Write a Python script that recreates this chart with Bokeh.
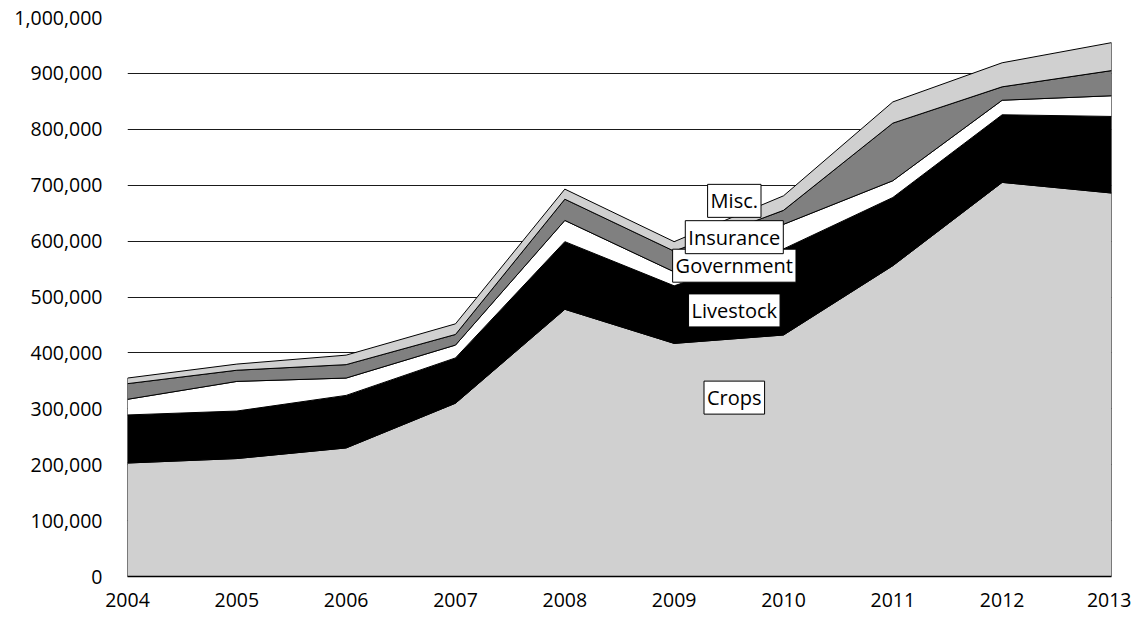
import numpy as np
from bokeh.plotting import figure
from bokeh.models import Range1d, NumeralTickFormatter, FixedTicker, Label
from bokeh.embed import file_html
from bokeh.resources import INLINE

years = [2004, 2005, 2006, 2007, 2008, 2009, 2010, 2011, 2012, 2013]
crops = [203000, 211000, 230000, 310000, 478000, 417000, 432000, 556000, 705000, 686000]
livestock = [86000, 85000, 94000, 81000, 121000, 103000, 154000, 122000, 121000, 137000]
government = [28000, 53000, 31000, 23000, 38000, 25000, 44000, 30000, 26000, 37000]
insurance = [28000, 20000, 24000, 19000, 38000, 37000, 25000, 103000, 24000, 45000]
misc = [10000, 11000, 17000, 19000, 18000, 17000, 26000, 38000, 43000, 50000]

series_names = ["Crops", "Livestock", "Government", "Insurance", "Misc."]
series_values = [crops, livestock, government, insurance, misc]
series_colors = ["#d0d0d0", "#000000", "#ffffff", "#808080", "#d0d0d0"]

FONT = "Open Sans"

p = figure(width=1131, height=612, output_backend="svg", toolbar_location=None,
           x_range=Range1d(2004, 2013), y_range=Range1d(0, 1000000))
p.min_border_left = 127
p.min_border_right = 20
p.min_border_top = 17
p.min_border_bottom = 36
p.outline_line_color = None
p.background_fill_color = "white"
p.border_fill_color = "white"

# stacked areas
xs = np.array(years, dtype=float)
bottom = np.zeros(len(years))
for name, vals, col in zip(series_names, series_values, series_colors):
    top = bottom + np.array(vals, dtype=float)
    px = list(xs) + list(xs[::-1])
    py = list(top) + list(bottom[::-1])
    p.patch(px, py, fill_color=col, line_color="black", line_width=1)
    bottom = top

# grid
p.xgrid.grid_line_color = None
p.ygrid.grid_line_color = "#1a1a1a"
p.ygrid.grid_line_width = 1
p.ygrid.ticker = FixedTicker(ticks=list(range(0, 1000001, 100000)))

# axes
p.yaxis.ticker = FixedTicker(ticks=list(range(0, 1000001, 100000)))
p.yaxis.formatter = NumeralTickFormatter(format="0,0")
p.yaxis.axis_line_color = None
p.yaxis.major_tick_line_color = None
p.yaxis.minor_tick_line_color = None
p.yaxis.major_label_standoff = 19

p.xaxis.ticker = FixedTicker(ticks=years)
p.xaxis.formatter = NumeralTickFormatter(format="0")
p.xaxis.axis_line_color = "black"
p.xaxis.axis_line_width = 1.5
p.xaxis.major_tick_line_color = None
p.xaxis.minor_tick_line_color = None
p.xaxis.major_label_standoff = 10

for ax in (p.xaxis, p.yaxis):
    ax.major_label_text_font = FONT
    ax.major_label_text_font_size = "19.5px"
    ax.major_label_text_color = "black"

# in-chart labels
label_x = 2009.55
label_y = [320000, 476000, 556000, 607000, 672000]
for name, ly in zip(series_names, label_y):
    lab = Label(x=label_x, y=ly, text=name, text_align="center", text_baseline="middle",
                text_font=FONT, text_font_size="20px", text_color="black",
                background_fill_color="white", border_line_color="black",
                border_line_width=1, padding=3)
    p.add_layout(lab)

open("out.html", "w").write(file_html(p, INLINE))
